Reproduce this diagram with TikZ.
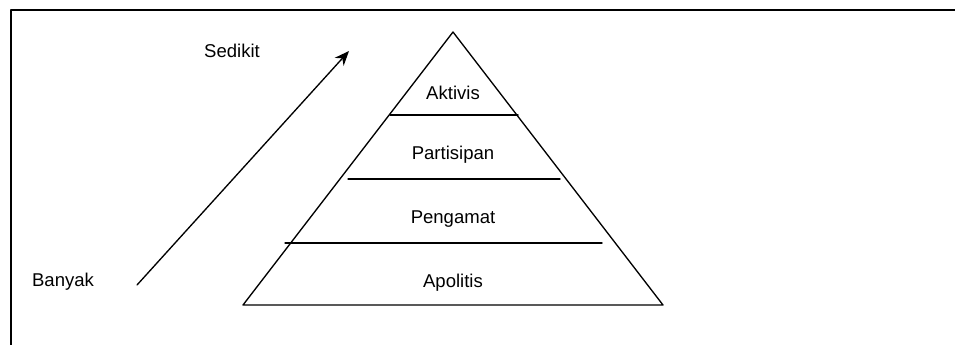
\documentclass[tikz,border=0pt]{standalone}
\usepackage{fontspec}
\setmainfont{Liberation Sans}
\usetikzlibrary{arrows.meta}
\begin{document}
\begin{tikzpicture}[font=\fontsize{13.9}{16}\selectfont,line join=round,line cap=round,>={Stealth[length=11pt,width=9pt]},x=0.75pt,y=-0.75pt,line width=1pt]
	\useasboundingbox (0,0) rectangle (955,344);
	\draw[line width=1.5pt] (11,350) -- (11,10) -- (960,10);
	% piramida
	\coordinate (puncak) at (453,32);
	\coordinate (kiri) at (243,305);
	\coordinate (kanan) at (663,305);
	\draw (puncak) -- (kanan) -- (kiri) -- cycle;
	\draw (390,115) -- (518,115);
	\draw (348,179) -- (560,179);
	\draw (285,243) -- (602,243);
	\node (aktivis) at (453,93) {Aktivis};
	\node (partisipan) at (453,155) {Partisipan};
	\node (pengamat) at (453,219) {Pengamat};
	\node (apolitis) at (453,283) {Apolitis};
	% panah
	\coordinate (bawah) at (137,285);
	\coordinate (atas) at (349,51);
	\draw[->] (bawah) -- (atas);
	\node (sedikit) at (232,51) {Sedikit};
	\node (banyak) at (63,282) {Banyak};
\end{tikzpicture}
\end{document}
